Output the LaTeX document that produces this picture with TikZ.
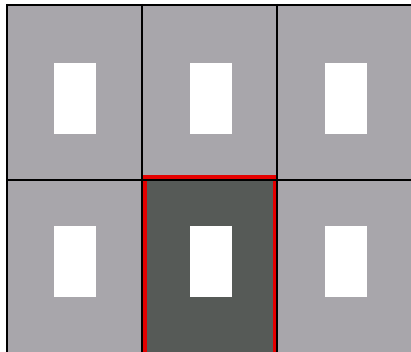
\documentclass[tikz,border=0pt]{standalone}
\usepackage{xcolor}
\usepackage{tikz}
\definecolor{cellgrey}{RGB}{168,166,171}
\definecolor{celldark}{RGB}{86,90,87}
\definecolor{myred}{RGB}{228,0,0}
\tikzset{
  cell/.style={fill=cellgrey, draw=none},
  darkcell/.style={fill=celldark, draw=none},
  window/.style={fill=white, draw=none},
  gridline/.style={draw=black, line width=2.2pt},
  highlight/.style={draw=myred, line width=3.8pt}
}

\begin{document}
\begin{tikzpicture}[x=1pt, y=-1pt]
  \clip (0,0) rectangle (411,352);
  \fill[white] (0,0) rectangle (411,352);

  % Cells
  \fill[cell] (7,5) rectangle (415,360);
  \fill[darkcell] (142,180) rectangle (277,360);

  % Windows in each cell
  \foreach \cx in {75,210.5,346} {
    \fill[window] (\cx-21,63) rectangle (\cx+21,134);
    \fill[window] (\cx-21,226) rectangle (\cx+21,297);
  }

  % Selected cell frame
  \draw[highlight] (145,177) rectangle (275,370);

  % Grid lines
  \foreach \gx in {7,142,277}
    \draw[gridline] (\gx,4) -- (\gx,360);
  \foreach \gy in {5,180}
    \draw[gridline] (6,\gy) -- (415,\gy);
\end{tikzpicture}
\end{document}
